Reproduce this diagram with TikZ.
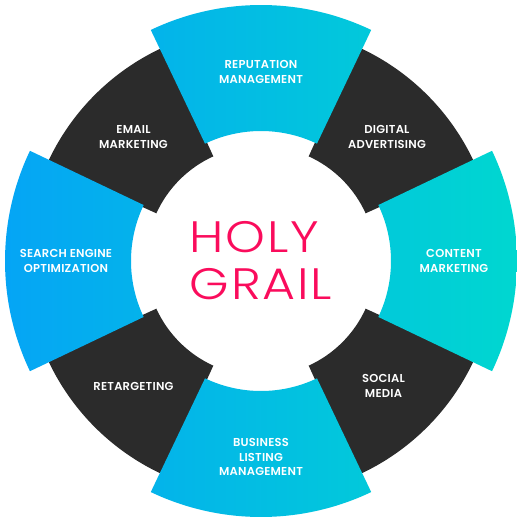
\documentclass[tikz,border=0pt]{standalone}
\usepackage{fontspec}
\setmainfont{Poppins}
\newfontfamily\lightfont{Poppins Light}[FakeStretch=1.15, LetterSpace=4]
\newfontfamily\lblfont{Poppins SemiBold}[LetterSpace=2]
\usetikzlibrary{positioning}
\definecolor{ringdark}{RGB}{43,43,43}
\definecolor{segblue}{RGB}{5,165,245}
\definecolor{segcyan}{RGB}{0,215,208}
\definecolor{grailpink}{RGB}{250,12,92}

\begin{document}
\begin{tikzpicture}[
    x=1pt, y=1pt,
    lbl/.style={text=white, align=center, font=\lblfont\fontsize{11.5}{14.5}\selectfont, inner sep=0pt},
    darkseg/.style={fill=ringdark}
]
    \useasboundingbox (-261,-262) rectangle (261,261);

    % dark ring pieces on the diagonals
    \foreach \a in {45,135,225,315} {
        \fill[darkseg] (\a-20.5:115) arc[start angle=\a-20.5, end angle=\a+20.5, radius=115]
            -- (\a+20.5:235) arc[start angle=\a+20.5, end angle=\a-20.5, radius=235] -- cycle;
    }

    % blue pieces, one gradient across all four
    \begin{scope}
        \clip \foreach \a in {0,90,180,270} {
            (\a-25.5:130) arc[start angle=\a-25.5, end angle=\a+25.5, radius=130]
            -- (\a+25.5:256) arc[start angle=\a+25.5, end angle=\a-25.5, radius=256] -- cycle
        };
        \shade[left color=segblue, right color=segcyan] (-256,-256) rectangle (256,256);
    \end{scope}

    \node[lbl] (reputation) at (0,189) {REPUTATION\\MANAGEMENT};
    \node[lbl] (digital) at (126,124) {DIGITAL\\ADVERTISING};
    \node[lbl] (email) at (-127.5,124) {EMAIL\\MARKETING};
    \node[lbl] (seo) at (-195,0) {SEARCH ENGINE\\OPTIMIZATION};
    \node[lbl] (content) at (193,0) {CONTENT\\MARKETING};
    \node[lbl] (retargeting) at (-127.5,-125) {RETARGETING};
    \node[lbl] (social) at (122.5,-125) {SOCIAL\\MEDIA};
    \node[lbl] (business) at (0,-196) {BUSINESS\\LISTING\\MANAGEMENT};

    \node[text=grailpink, align=left, inner sep=0pt,
          font=\lightfont\fontsize{44}{47}\selectfont] (grail) at (0,0) {HOLY\\GRAIL};
\end{tikzpicture}
\end{document}
